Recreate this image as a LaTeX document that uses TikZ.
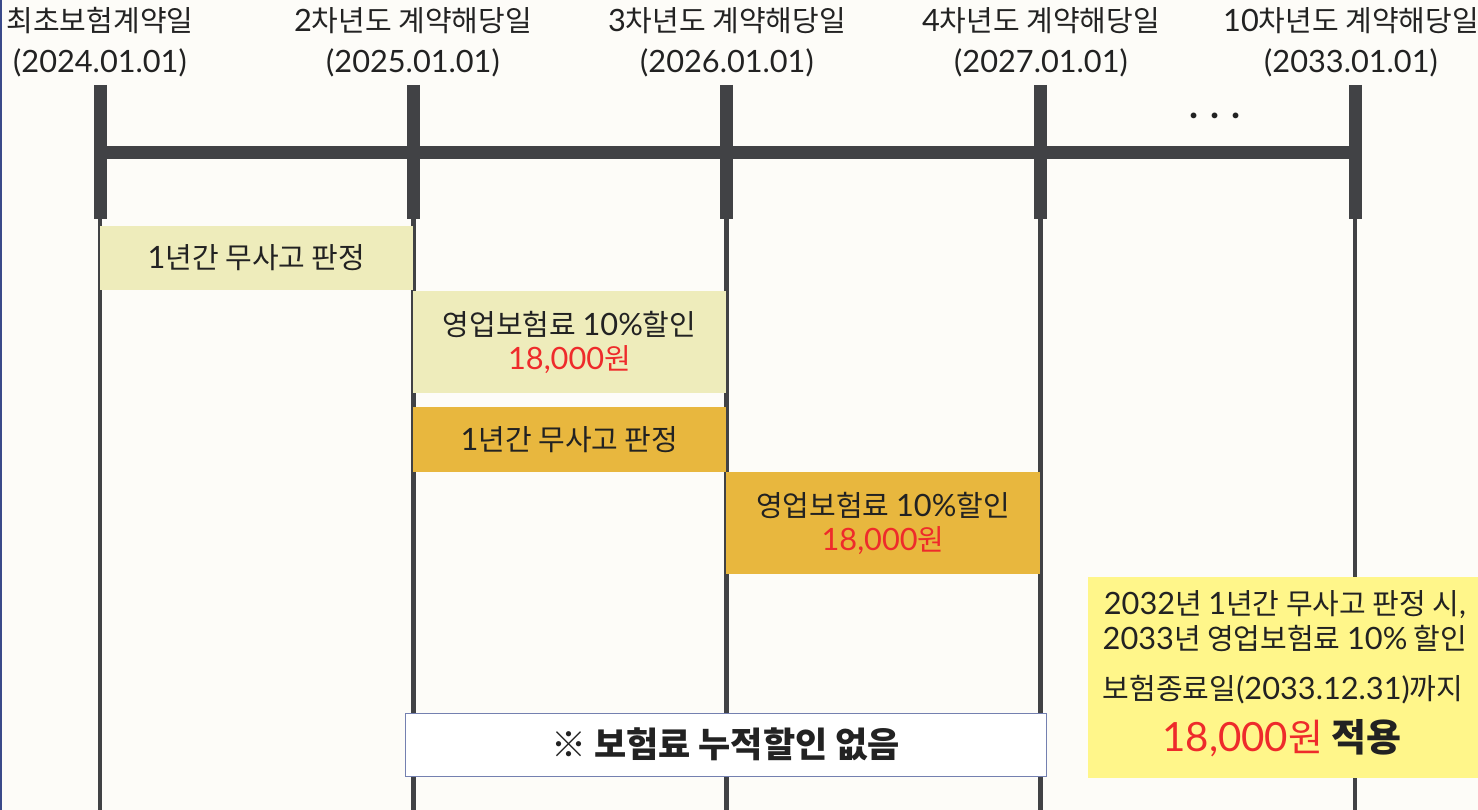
\documentclass[tikz,border=0pt]{standalone}
\usepackage{fontspec}
\setmainfont{Noto Sans CJK KR}
\newfontfamily\lat{Lato}[Scale=1.06]
\definecolor{bg}{HTML}{FDFCF8}
\definecolor{leftb}{HTML}{3A4A8A}
\definecolor{barc}{HTML}{414245}
\definecolor{txt}{HTML}{222222}
\definecolor{light}{HTML}{EEECBB}
\definecolor{gold}{HTML}{E8B73E}
\definecolor{yel}{HTML}{FFF68A}
\definecolor{redc}{HTML}{EE2B2B}
\definecolor{bord}{HTML}{7480B0}
\newcommand{\won}{\textcolor{redc}{{\lat 18,000}원}}
\begin{document}
\begin{tikzpicture}[x=1pt,y=-1pt,
  lbl/.style={font=\fontsize{29}{41}\selectfont, text=txt, inner sep=0, align=center},
  tickline/.style={line width=13pt, draw=barc},
  thinline/.style={line width=4.5pt, draw=barc},
  box/.style={inner sep=0, align=center, font=\fontsize{29}{34}\selectfont, text=txt},
  note/.style={inner sep=0, font=\fontsize{29}{30}\selectfont, text=txt}]
\fill[bg] (0,0) rectangle (1478,810);
\useasboundingbox (0,0) rectangle (1478,810);
\fill[leftb] (0,0) rectangle (2,810);
% ticks and vertical lines
\foreach \i/\x in {1/100,2/413.5,3/726.5,4/1040.5,5/1355}{
  \coordinate (ta\i) at (\x,85);
  \coordinate (tb\i) at (\x,219);
  \coordinate (te\i) at (\x,810);
  \draw[thinline] (tb\i) -- (te\i);
  \draw[tickline] (ta\i) -- (tb\i);
}
\coordinate (bs) at (100,152.5);
\coordinate (be) at (1361.5,152.5);
\draw[tickline] (bs) -- (be);
% labels
\node[lbl] (l1) at (100,42) {최초보험계약일\\{\lat (2024.01.01)}};
\node[lbl] (l2) at (413,42) {{\lat 2}차년도 계약해당일\\{\lat (2025.01.01)}};
\node[lbl] (l3) at (727,42) {{\lat 3}차년도 계약해당일\\{\lat (2026.01.01)}};
\node[lbl] (l4) at (1041,42) {{\lat 4}차년도 계약해당일\\{\lat (2027.01.01)}};
\node[lbl] (l5) at (1351,42) {{\lat 10}차년도 계약해당일\\{\lat (2033.01.01)}};
\node[inner sep=0, font=\fontsize{36}{36}\lat\bfseries, text=txt] (dots) at (1215,116) {. . .};
% boxes
\node[box, fill=light, minimum width=313, minimum height=64] (b1) at (256.5,258) {{\lat 1}년간 무사고 판정};
\node[box, fill=light, minimum width=313, minimum height=102] (b2) at (569.5,342) {영업보험료 {\lat 10\%}할인\\\won};
\node[box, fill=gold, minimum width=313, minimum height=65] (b3) at (569.5,439.5) {{\lat 1}년간 무사고 판정};
\node[box, fill=gold, minimum width=314, minimum height=102] (b4) at (883,523) {영업보험료 {\lat 10\%}할인\\\won};
\node[box, fill=white, draw=bord, line width=1pt, minimum width=641, minimum height=63, font=\fontsize{35}{36}\selectfont\bfseries] (b5) at (725.5,744.5) {※ 보험료 누적할인 없음};
\node[fill=yel, minimum width=390, minimum height=201, inner sep=0] (b6) at (1283,677.5) {};
\node[note] (n1) at (1285,605) {{\lat 2032}년 {\lat 1}년간 무사고 판정 시{\lat ,}};
\node[note] (n2) at (1285,638) {{\lat 2033}년 영업보험료 {\lat 10\%} 할인};
\node[note] (n3) at (1283,690) {보험종료일{\lat (2033.12.31)}까지};
\node[note, font=\fontsize{38}{40}\selectfont] (n4) at (1282,738) {\won\ \textbf{적용}};
\end{tikzpicture}
\end{document}
